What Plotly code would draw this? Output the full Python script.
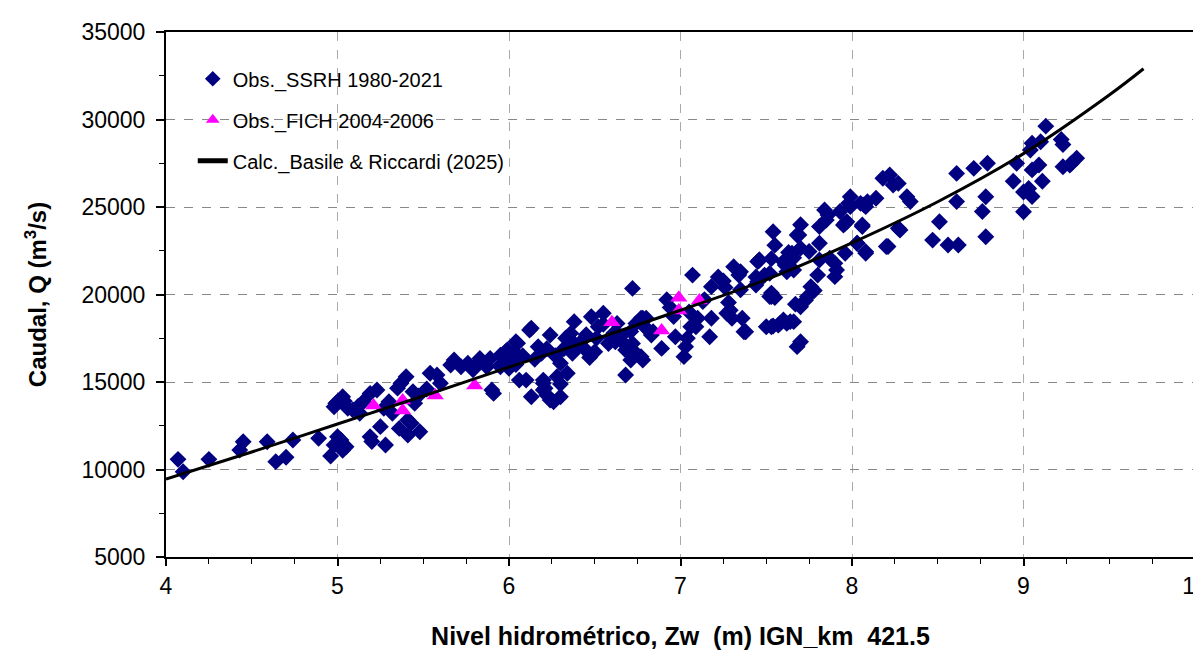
import plotly.graph_objects as go

# Observed data SSRH 1980-2021 (stage Zw [m], discharge Q [m3/s])
ssrh_z = [
    4.07, 4.10, 4.25, 4.43, 4.45, 4.59, 4.64, 4.70, 4.74, 4.89, 4.96,
    4.98, 5.00, 5.02, 5.05, 5.03, 4.99, 5.00, 4.98, 5.03, 5.04, 5.09, 5.13, 5.15,
    5.19, 5.23, 5.25, 5.19, 5.20, 5.28, 5.30, 5.32, 5.36, 5.41, 5.48, 5.41, 5.43,
    5.45, 5.37, 5.40, 5.35, 5.44, 5.54, 5.58, 5.60, 5.66, 5.68, 5.72, 5.76, 5.79,
    5.83, 5.87, 5.91, 5.90, 5.95, 5.99, 6.03, 6.05, 5.27, 5.12, 5.06, 5.52, 5.47,
    5.83, 5.89, 5.95, 5.99, 6.04, 6.00, 6.04, 6.10, 6.13, 6.13, 6.20, 6.20, 6.24,
    6.30, 6.30, 5.98, 5.95, 6.06, 6.12, 6.17, 6.19, 6.20, 6.22, 6.21, 6.24, 6.26,
    6.28, 6.30, 6.33, 6.36, 6.38, 6.37, 6.40, 6.34, 6.48, 6.50, 6.52, 6.55, 6.51,
    6.61, 6.62, 6.65, 6.68, 6.71, 6.72, 6.72, 6.74, 6.77, 6.78, 6.80,
    6.08, 6.15, 6.22, 6.27, 6.32, 6.42, 6.45, 6.38, 6.44, 6.47, 6.55, 6.58, 6.60,
    6.63, 6.65, 6.68, 6.71, 6.74, 6.77, 6.78, 6.83, 6.89, 6.92, 6.97, 7.02, 7.03,
    7.07, 7.05, 7.09, 7.13, 7.17, 7.22, 7.26, 7.29, 7.31, 7.35, 7.36, 7.37, 7.44,
    7.46, 7.50, 7.53, 7.53, 7.58, 7.60, 7.68, 7.63,
    6.84, 6.80, 6.94, 6.96, 7.04, 7.06, 7.10, 7.14, 7.18, 7.18, 7.25, 7.27, 7.28,
    7.30, 7.34, 7.35, 7.44, 7.45, 7.49, 7.62, 7.66, 7.54, 7.55, 7.53, 7.60, 7.62,
    7.66, 7.68, 7.70, 7.67, 7.53, 7.54, 7.57, 7.64, 7.38, 7.70,
    7.46, 7.52, 7.45, 7.52, 7.55, 7.61, 7.65, 7.69, 7.70, 7.75, 7.66, 7.76, 7.74,
    7.70, 7.73, 7.78, 7.81, 7.81, 7.84, 7.86, 7.85, 7.95, 7.97, 8.06, 7.98, 8.07,
    8.09, 7.81, 7.87, 7.90, 7.91, 7.90, 7.80, 7.96, 8.03, 8.08, 8.21, 8.27,
    8.18, 8.22, 8.24, 8.27, 8.32, 8.34, 8.14, 7.99, 7.99, 8.05, 8.08, 7.93, 7.96,
    8.06, 8.28, 8.51, 8.47, 8.56, 8.62, 8.20, 8.08, 8.03, 8.61, 8.61, 8.71, 8.79,
    8.78, 8.76, 8.78, 8.94, 8.96, 9.00, 9.00, 9.03, 9.05, 9.04, 9.05, 9.10, 9.09,
    9.05, 9.11, 9.13, 9.22, 9.23, 9.23, 9.28, 9.31, 9.27,
]
ssrh_q = [
    10580, 9870, 10580, 11110, 11590, 11590, 10450, 10700, 11690, 11780, 10770,
    11400, 11870, 11690, 11300, 11100, 13780, 13870, 13590, 14160, 13900, 13400, 13210, 13870,
    14350, 14540, 12450, 11870, 11600, 11400, 13870, 13210, 12350, 11970, 12160, 12830, 12650,
    13780, 14930, 15300, 14650, 14450, 15500, 15400, 14930, 15970, 16260, 15870, 16070, 15700,
    16350, 15870, 14350, 14540, 15870, 16260, 16730, 17210, 13500, 13600, 13500, 14600, 14200,
    16160, 16350, 15970, 16830, 17300, 15780, 16000, 15110, 14160, 18070, 14930, 14540, 13970,
    14160, 14880, 16730, 16530, 15110, 17970, 17020, 16640, 15110, 14260, 14640, 17690, 13870,
    15300, 16070, 17500, 17780, 18450, 16640, 17020, 15500, 18730, 16730, 18160, 18930, 17500,
    17780, 17300, 17600, 15400, 17880, 20350, 17200, 18350, 18640, 16260, 18070,
    16500, 16300, 16900, 16500, 16900, 17300, 17700, 17200, 16900, 16400, 18300, 17200, 17500,
    18350, 17400, 16830, 16260, 16650, 16450, 18640, 17690, 16920, 19700, 17590, 16450, 17020,
    21110, 19000, 18160, 19600, 17590, 21000, 20400, 19100, 21590, 21300, 18640, 17870, 21000,
    21970, 18160, 20080, 18160, 18350, 18540, 17020, 22400,
    17870, 18640, 19260, 18740, 17500, 18160, 18640, 19710, 18640, 20450, 20770, 18930, 19550,
    18640, 21110, 20270, 20540, 21880, 21110, 18350, 18450, 23590, 22820, 22050, 21880, 21300,
    22100, 23400, 23990, 19450, 19880, 18200, 18250, 18450, 17870, 17300,
    21970, 21210, 20730, 19880, 19830, 21690, 22360, 23400, 22650, 22460, 21400, 20450, 19880,
    19300, 19680, 20230, 22930, 23880, 24830, 24550, 24260, 23970, 24160, 23970, 25210, 25120,
    25300, 21970, 22070, 21780, 21400, 21020, 21110, 22360, 22930, 22360, 22740, 23780,
    26640, 26830, 26260, 26350, 25590, 25310, 25500, 25590, 25020, 25210, 25020, 24740, 24070,
    23880, 23690, 24160, 23110, 22830, 22830, 22740, 22450, 22930, 26920, 25310, 27210, 27500,
    25590, 24740, 23300, 26470, 27500, 24730, 25860, 26060, 25600, 28260, 28640, 28730, 27400,
    27120, 26470, 29620, 28860, 28570, 27300, 27500, 27790, 27400,
]

# Observed data FICH 2004-2006
fich_z = [5.21, 5.38, 5.38, 5.57, 5.80, 6.60, 6.89, 6.99, 6.99, 7.11]
fich_q = [13660, 13940, 13370, 14230, 14800, 18420, 17940, 19810, 19090, 19660]

# Calculated rating curve, Basile & Riccardi (2025)
calc_z = [4.0, 4.5, 5.0, 5.5, 6.0, 6.5, 7.0, 7.5, 8.0, 8.5, 9.0, 9.5, 9.7]
calc_q = [9450, 11000, 12600, 14200, 15850, 17450, 19100, 20850, 22950, 25300, 28050, 31400, 32900]

FONT = "Liberation Sans, Arial, sans-serif"

fig = go.Figure()
fig.add_trace(go.Scatter(
    x=ssrh_z, y=ssrh_q, mode="markers", name="Obs._SSRH 1980-2021", legendgroup="a",
    marker=dict(symbol="diamond", size=13, color="#000080", line=dict(width=0)),
))
fig.add_trace(go.Scatter(
    x=fich_z, y=fich_q, mode="markers", name="Obs._FICH 2004-2006", legendgroup="b",
    marker=dict(symbol="triangle-up", size=15, color="#FF00FF", line=dict(width=0)),
))
fig.add_trace(go.Scatter(
    x=calc_z, y=calc_q, mode="lines", name="Calc._Basile & Riccardi (2025)", legendgroup="c",
    line=dict(color="black", width=3, shape="spline", smoothing=1.0),
))

fig.update_layout(
    width=1201, height=667,
    margin=dict(l=158, r=14, t=24, b=118, autoexpand=False),
    paper_bgcolor="white", plot_bgcolor="white",
    font=dict(family=FONT, color="black", size=21),
    showlegend=True,
    legend=dict(
        x=0.026, y=0.948, xanchor="left", yanchor="top",
        bgcolor="rgba(0,0,0,0)", borderwidth=0,
        font=dict(family=FONT, size=20, color="black"),
        itemsizing="constant", tracegroupgap=12,
    ),
)
fig.update_xaxes(
    range=[4, 10], dtick=1, tick0=4, automargin=False, ticklabeloverflow="allow",
    showline=True, linecolor="black", linewidth=2, mirror=True,
    ticks="outside", ticklen=7, tickwidth=2, tickcolor="black",
    minor=dict(dtick=0.25, ticks="outside", ticklen=5, tickcolor="black", tickwidth=1, showgrid=False),
    showgrid=True, gridcolor="#aaaaaa", griddash="dash", gridwidth=1,
    zeroline=False,
    tickfont=dict(family=FONT, size=23, color="black"),
    title=dict(text="<b>Nivel hidrométrico, Zw  (m) IGN_km  421.5</b>",
               font=dict(family=FONT, size=25, color="black"), standoff=30),
)
fig.update_yaxes(
    range=[5000, 35000], dtick=5000, tick0=5000, tickformat="d", automargin=False,
    showline=True, linecolor="black", linewidth=2, mirror=True,
    ticks="outside", ticklen=8, tickwidth=2, tickcolor="black", ticklabelstandoff=6,
    minor=dict(dtick=2500, ticks="outside", ticklen=5, tickcolor="black", tickwidth=1, showgrid=False),
    showgrid=True, gridcolor="#888888", griddash="dash", gridwidth=1,
    zeroline=False,
    tickfont=dict(family=FONT, size=23, color="black"),
    title=dict(text="<b>Caudal, Q (m<sup>3</sup>/s)</b>",
               font=dict(family=FONT, size=24, color="black"), standoff=28),
)

fig.write_html("out.html")
